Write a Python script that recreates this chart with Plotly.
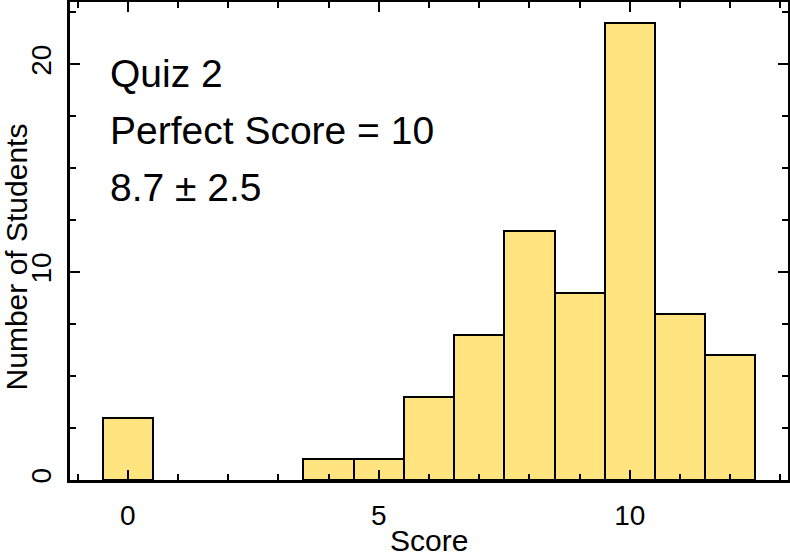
import plotly.graph_objects as go

# counts per score (scores with no students are left out)
scores = [0, 4, 5, 6, 7, 8, 9, 10, 11, 12]
students = [3, 1, 1, 4, 7, 12, 9, 22, 8, 6]

x_ticks = [0, 5, 10]
y_ticks = [0, 10, 20]

notes = ["Quiz 2", "Perfect Score = 10", "8.7 ± 2.5"]

FONT = "Liberation Sans, Arial, Helvetica, sans-serif"

fig = go.Figure()
fig.add_trace(go.Bar(
    x=scores, y=students, width=1,
    marker=dict(color="#FFE47F", line=dict(color="black", width=2)),
))

axis_common = dict(
    showline=True, linecolor="black", linewidth=2.5, mirror="ticks",
    ticks="inside", tickcolor="black", tickwidth=2, ticklen=10,
    showgrid=False, zeroline=False, automargin=False,
    tickfont=dict(family=FONT, size=28, color="black"),
)

fig.update_xaxes(
    range=[-1.15, 13.15], tickvals=x_ticks,
    minor=dict(dtick=1, ticks="inside", ticklen=6, tickwidth=2, tickcolor="black", showgrid=False),
    ticklabelstandoff=9,
    **axis_common,
)
fig.update_yaxes(
    range=[0, 23], tickvals=y_ticks, tickangle=-90,
    minor=dict(dtick=2.5, ticks="inside", ticklen=6, tickwidth=2, tickcolor="black", showgrid=False),
    ticklabelstandoff=5,
    **axis_common,
)

# axis titles as annotations so they land where the original has them
fig.add_annotation(
    text="Score", xref="paper", yref="paper",
    x=0.5, y=-0.127, xanchor="center", yanchor="middle", showarrow=False,
    font=dict(family=FONT, size=30, color="black"),
)
fig.add_annotation(
    text="Number of Students", textangle=-90, xref="paper", yref="paper",
    x=-0.075, y=0.466, xanchor="center", yanchor="middle", showarrow=False,
    font=dict(family=FONT, size=30, color="black"),
)

# text block in upper left
for i, t in enumerate(notes):
    fig.add_annotation(
        text=t, xref="paper", yref="paper", x=0.053, y=0.85 - i * 0.119,
        xanchor="left", yanchor="middle", showarrow=False,
        font=dict(family=FONT, size=39, color="black"),
    )

fig.update_layout(
    width=790, height=554,
    margin=dict(l=70, r=2, t=2, b=74),
    plot_bgcolor="white", paper_bgcolor="white",
    showlegend=False, bargap=0,
)

fig.write_html("out.html", config={"displayModeBar": False},
               post_script="document.body.style.margin='0';")
